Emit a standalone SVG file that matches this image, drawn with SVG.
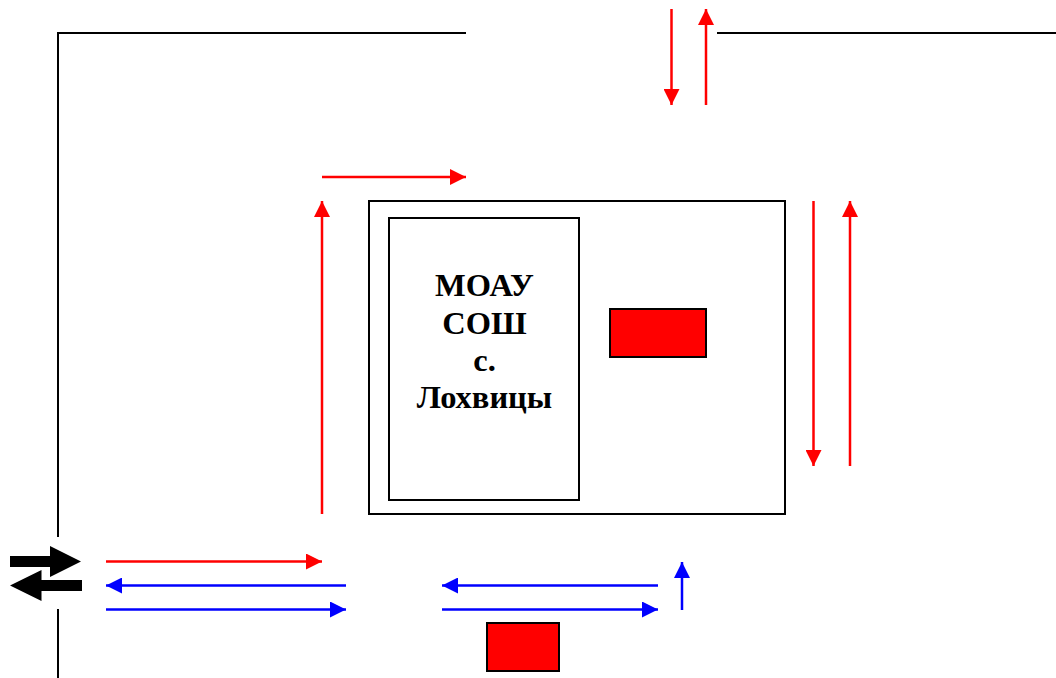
<svg xmlns="http://www.w3.org/2000/svg" width="1056" height="678" viewBox="0 0 1056 678">
<style>
.wall{fill:none;stroke:#000;stroke-width:2}
.box{fill:#fff;stroke:#000;stroke-width:2}
.car{fill:#f00;stroke:#000;stroke-width:2}
.r{stroke:#f00;stroke-width:2.5;fill:none;marker-end:url(#mr)}
.b{stroke:#00f;stroke-width:2.5;fill:none;marker-end:url(#mb)}
.big{fill:#000}
text{font-family:"Liberation Serif","Times New Roman",serif;font-size:32.5px;font-weight:bold;text-anchor:middle;fill:#000}
</style>
<defs>
<marker id="mr" markerUnits="userSpaceOnUse" markerWidth="16" markerHeight="16" refX="16" refY="8" orient="auto"><path d="M0 0L16 8L0 16Z" fill="#f00"/></marker>
<marker id="mb" markerUnits="userSpaceOnUse" markerWidth="16" markerHeight="16" refX="16" refY="8" orient="auto"><path d="M0 0L16 8L0 16Z" fill="#00f"/></marker>
</defs>
<g id="walls">
<path class="wall" d="M466 33H58V537"/>
<path class="wall" d="M717 33H1056"/>
<path class="wall" d="M58 609V678"/>
</g>
<g id="yard"><rect class="box" x="369" y="201" width="416" height="313"/></g>
<g id="school">
<rect class="box" x="389" y="218" width="190" height="282"/>
<text x="484.500" y="296">МОАУ</text>
<text x="484.500" y="333.500">СОШ</text>
<text x="484.500" y="370.500">с.</text>
<text x="484.500" y="408">Лохвицы</text>
</g>
<g id="car-yard"><rect class="car" x="610" y="309" width="96" height="48"/></g>
<g id="car-street"><rect class="car" x="487" y="623" width="72" height="48"/></g>
<g id="entry-arrows">
<polygon class="big" points="10,556 50,556 50,546 81,561.500 50,577 50,567 10,567"/>
<polygon class="big" points="82,580 41.500,580 41.500,570 10,585.500 41.500,601 41.500,591 82,591"/>
</g>
<g id="connectors">
<path class="r" d="M671.500 9V105"/>
<path class="r" d="M706 105V9"/>
<path class="r" d="M322 177H466"/>
<path class="r" d="M322 514V201"/>
<path class="r" d="M813.500 201V466"/>
<path class="r" d="M850 466V201"/>
<path class="r" d="M106 561.500H322"/>
<path class="b" d="M346 585.500H106"/>
<path class="b" d="M106 609.500H346"/>
<path class="b" d="M658 585.500H442"/>
<path class="b" d="M442 609.500H658"/>
<path class="b" d="M682 610V562"/>
</g>
</svg>
